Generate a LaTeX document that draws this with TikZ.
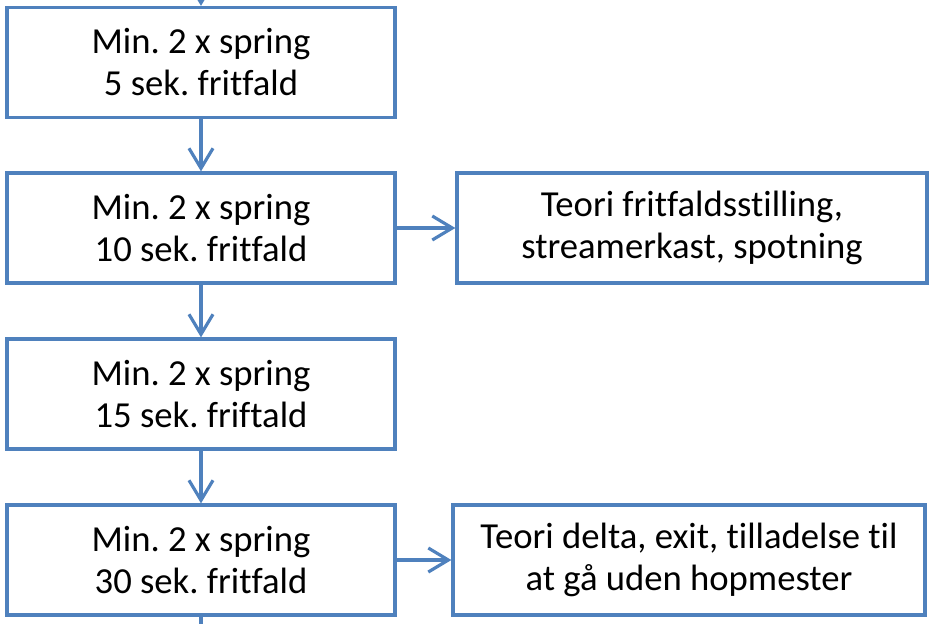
\documentclass[tikz,border=0pt]{standalone}
\usepackage{fontspec}
\setmainfont[Ligatures={NoCommon}]{Carlito}
\usetikzlibrary{arrows.meta}
\frenchspacing

\definecolor{flowblue}{RGB}{79,129,189}

\begin{document}
\begin{tikzpicture}[x=0.75pt,y=-0.75pt,
    stepbox/.style={draw=flowblue, line width=2.4pt, fill=white, minimum height=82.5pt,
        align=center, font=\fontsize{27.5}{31.5}\selectfont, inner sep=0pt},
    flow/.style={draw=flowblue, line width=2.4pt, -{Straight Barb[length=15pt,width=18pt,line width=2.4pt]}}]
                \useasboundingbox (0,0) rectangle (930,624);
                \node[stepbox, minimum width=291pt] (s5) at (201,62.5) {Min. 2 x spring\\5 sek. fritfald};
                \node[stepbox, minimum width=291pt] (s10) at (201,228) {Min. 2 x spring\\10 sek. fritfald};
                \node[stepbox, minimum width=291pt] (s15) at (201,394) {Min. 2 x spring\\15 sek. friftald};
                \node[stepbox, minimum width=291pt] (s30) at (201,560) {Min. 2 x spring\\30 sek. fritfald};
                \node[stepbox, minimum width=352.5pt] (t1) at (692,228) {Teori fritfaldsstilling,\\streamerkast, spotning};
                \node[stepbox, minimum width=354pt] (t2) at (689,560) {Teori delta, exit, tilladelse til\\at gå uden hopmester};
                \coordinate (in) at (201,0);
                \coordinate (out) at (201,624);
                \draw[flow] (in) -- (s5);
                \draw[flow] (s5) -- (s10);
                \draw[flow] (s10) -- (s15);
                \draw[flow] (s15) -- (s30);
                \draw[flow] (s10) -- (t1);
                \draw[flow] (s30) -- (t2);
                \draw[flowblue, line width=2.4pt] (s30) -- (out);
            \end{tikzpicture}
\end{document}
